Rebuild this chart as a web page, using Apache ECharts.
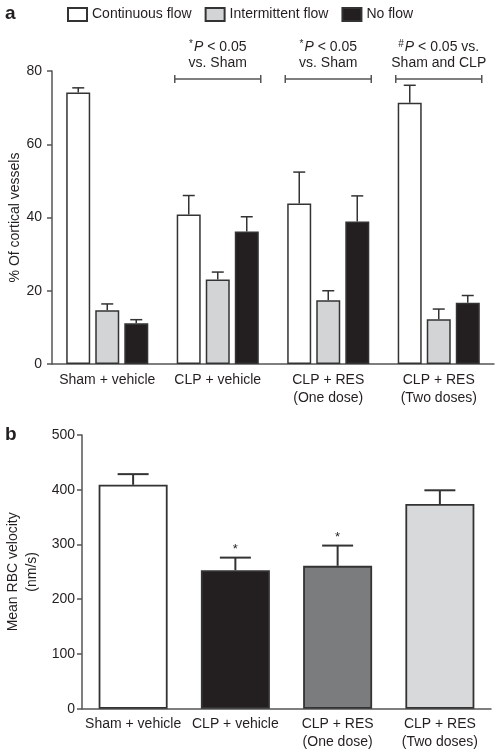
<!DOCTYPE html>
<html><head><meta charset="utf-8">
<script src="https://cdn.jsdelivr.net/npm/echarts@6/dist/echarts.min.js"></script>
<style>html,body{margin:0;padding:0;background:#fff}#c{width:502px;height:753px}</style>
</head><body><div id="c"></div>
<script>
// Panel a data
const groupsA = ['Sham + vehicle', 'CLP + vehicle', 'CLP + RES\n(One dose)', 'CLP + RES\n(Two doses)'];
const seriesNamesA = ['Continuous flow', 'Intermittent flow', 'No flow'];
const continuous = [74.1, 40.8, 43.8, 71.3];
const continuousErr = [1.3, 5.2, 8.6, 4.8];
const intermittent = [14.7, 23.1, 17.4, 12.2];
const intermittentErr = [1.7, 2.0, 2.6, 2.8];
const noFlow = [11.1, 36.2, 38.9, 16.7];
const noFlowErr = [1.0, 4.0, 7.0, 2.0];
const ticksA = [0, 20, 40, 60, 80];
// Significance annotations (category index, bracket level)
const annotGroups = [1, 2, 3];
const annotLevel = [77.8, 77.8, 77.8];
const annotLine1 = ['{s|*}{i|P}{n| < 0.05}', '{s|*}{i|P}{n| < 0.05}', '{s|#}{i|P}{n| < 0.05 vs.}'];
const annotLine2 = ['vs. Sham', 'vs. Sham', 'Sham and CLP'];

// Panel b data
const groupsB = ['Sham + vehicle', 'CLP + vehicle', 'CLP + RES\n(One dose)', 'CLP + RES\n(Two doses)'];
const velocity = [409, 253, 261, 374];
const velocityErr = [19.5, 23, 37, 25];
const velocitySig = [false, true, true, false];
const ticksB = [0, 100, 200, 300, 400, 500];

const colorsA = ['#ffffff', '#d3d4d6', '#231f20'];
const colorsB = ['#ffffff', '#231f20', '#7b7c7e', '#d8d9db'];
const edge = '#333333';
const txt = '#231f20';
const FONT = '"Liberation Sans", Arial, sans-serif';

function errSeries(xi, yi, vals, errs, offset, capHalf, lw, sig) {
  return {
    type: 'custom', xAxisIndex: xi, yAxisIndex: yi, silent: true, z: 5,
    data: vals.map((v, i) => [i, v, v + errs[i]]),
    encode: { x: 0, y: [1, 2] },
    renderItem: function (params, api) {
      const i = api.value(0);
      const c0 = api.coord([i, api.value(1)]);
      const c1 = api.coord([i, api.value(2)]);
      const x = c0[0] + offset;
      const ch = [
        { type: 'line', shape: { x1: x, y1: c0[1], x2: x, y2: c1[1] }, style: { stroke: edge, lineWidth: lw } },
        { type: 'line', shape: { x1: x - capHalf, y1: c1[1], x2: x + capHalf, y2: c1[1] }, style: { stroke: edge, lineWidth: lw } }
      ];
      if (sig && sig[params.dataIndex]) {
        ch.push({ type: 'text', style: { x: x, y: c1[1] - 2, text: '*', fill: txt, font: '13px ' + FONT, textAlign: 'center', textVerticalAlign: 'bottom' } });
      }
      return { type: 'group', children: ch };
    }
  };
}

const barW = 24;
const step = 29;

const option = {
  animation: false,
  backgroundColor: '#fff',
  textStyle: { fontFamily: FONT },
  legend: {
    left: 67, top: 7, padding: 0, itemWidth: 19, itemHeight: 13, itemGap: 13, selectedMode: false,
    icon: 'rect',
    data: seriesNamesA,
    textStyle: { fontSize: 14, color: txt, fontFamily: FONT }
  },
  graphic: [
    { type: 'text', left: 5, top: 4, style: { text: 'a', font: 'bold 19px ' + FONT, fill: txt } },
    { type: 'text', left: 5, top: 425, style: { text: 'b', font: 'bold 19px ' + FONT, fill: txt } }
  ],
  grid: [
    { left: 52, right: 8, top: 71, bottom: 389, containLabel: false, outerBoundsMode: 'none' },
    { left: 82, right: 11, top: 435, bottom: 44.3, containLabel: false, outerBoundsMode: 'none' }
  ],
  xAxis: [
    {
      type: 'category', gridIndex: 0, data: groupsA,
      axisLine: { lineStyle: { color: '#555', width: 1.5 } }, axisTick: { show: false },
      axisLabel: { color: txt, fontSize: 14, margin: 7, lineHeight: 18, fontFamily: FONT, interval: 0 }
    },
    {
      type: 'category', gridIndex: 1, data: groupsB,
      axisLine: { lineStyle: { color: '#555', width: 1.5 } }, axisTick: { show: false },
      axisLabel: { color: txt, fontSize: 14, margin: 6, lineHeight: 18, fontFamily: FONT, interval: 0 }
    }
  ],
  yAxis: [
    {
      type: 'value', gridIndex: 0, min: ticksA[0], max: ticksA[ticksA.length - 1], interval: 20,
      name: '% Of cortical vessels', nameLocation: 'middle', nameGap: 30, nameMoveOverlap: false,
      nameTextStyle: { color: txt, fontSize: 14, fontFamily: FONT },
      axisLine: { show: true, lineStyle: { color: '#555', width: 1.5 } },
      axisTick: { show: true, length: 5, lineStyle: { color: '#555', width: 1.5 } },
      splitLine: { show: false },
      axisLabel: { color: txt, fontSize: 14, margin: 10, fontFamily: FONT }
    },
    {
      type: 'value', gridIndex: 1, min: ticksB[0], max: ticksB[ticksB.length - 1], interval: 100,
      name: 'Mean RBC velocity\n(nm/s)', nameLocation: 'middle', nameGap: 40, nameMoveOverlap: false,
      nameTextStyle: { color: txt, fontSize: 14, fontFamily: FONT, lineHeight: 19 },
      axisLine: { show: true, lineStyle: { color: '#555', width: 1.5 } },
      axisTick: { show: true, length: 5, lineStyle: { color: '#555', width: 1.5 } },
      splitLine: { show: false },
      axisLabel: { color: txt, fontSize: 14, margin: 7, fontFamily: FONT }
    }
  ],
  series: [
    {
      name: seriesNamesA[0], type: 'bar', xAxisIndex: 0, yAxisIndex: 0, data: continuous,
      barWidth: barW, barGap: '21%',
      itemStyle: { color: colorsA[0], borderColor: edge, borderWidth: 1.5 }
    },
    {
      name: seriesNamesA[1], type: 'bar', xAxisIndex: 0, yAxisIndex: 0, data: intermittent,
      barWidth: barW, barGap: '21%',
      itemStyle: { color: colorsA[1], borderColor: edge, borderWidth: 1.5 }
    },
    {
      name: seriesNamesA[2], type: 'bar', xAxisIndex: 0, yAxisIndex: 0, data: noFlow,
      barWidth: barW, barGap: '21%',
      itemStyle: { color: colorsA[2], borderColor: edge, borderWidth: 1.5 }
    },
    errSeries(0, 0, continuous, continuousErr, -step, 6, 1.5),
    errSeries(0, 0, intermittent, intermittentErr, 0, 6, 1.5),
    errSeries(0, 0, noFlow, noFlowErr, step, 6, 1.5),
    {
      type: 'custom', xAxisIndex: 0, yAxisIndex: 0, silent: true, z: 6,
      data: annotGroups.map((g, k) => [g, annotLevel[k], k]),
      encode: { x: 0, y: 1 },
      renderItem: function (params, api) {
        const c = api.coord([api.value(0), api.value(1)]);
        const k = api.value(2);
        const x = c[0], y = c[1], h = 43;
        const st = { stroke: '#555', lineWidth: 1.5 };
        return {
          type: 'group', children: [
            { type: 'line', shape: { x1: x - h, y1: y, x2: x + h, y2: y }, style: st },
            { type: 'line', shape: { x1: x - h, y1: y - 4, x2: x - h, y2: y + 4 }, style: st },
            { type: 'line', shape: { x1: x + h, y1: y - 4, x2: x + h, y2: y + 4 }, style: st },
            {
              type: 'text', style: {
                x: x, y: y - 32, text: annotLine1[k], textAlign: 'center', textVerticalAlign: 'middle',
                fill: txt, font: '14px ' + FONT,
                rich: {
                  s: { fontSize: 10, verticalAlign: 'top', padding: [0, 1, 6, 0], fill: txt, fontFamily: FONT },
                  i: { fontSize: 14, fontStyle: 'italic', fill: txt, fontFamily: FONT },
                  n: { fontSize: 14, fill: txt, fontFamily: FONT }
                }
              }
            },
            {
              type: 'text', style: {
                x: x, y: y - 16, text: annotLine2[k], textAlign: 'center', textVerticalAlign: 'middle',
                fill: txt, font: '14px ' + FONT
              }
            }
          ]
        };
      }
    },
    {
      type: 'bar', xAxisIndex: 1, yAxisIndex: 1, barWidth: 69,
      data: velocity.map((v, i) => ({ value: v, itemStyle: { color: colorsB[i] } })),
      itemStyle: { borderColor: edge, borderWidth: 1.8 }
    },
    errSeries(1, 1, velocity, velocityErr, 0, 15.5, 2, velocitySig)
  ]
};

const chart = echarts.init(document.getElementById('c'), null, { renderer: 'canvas' });
chart.setOption(option);
</script>
</body></html>
